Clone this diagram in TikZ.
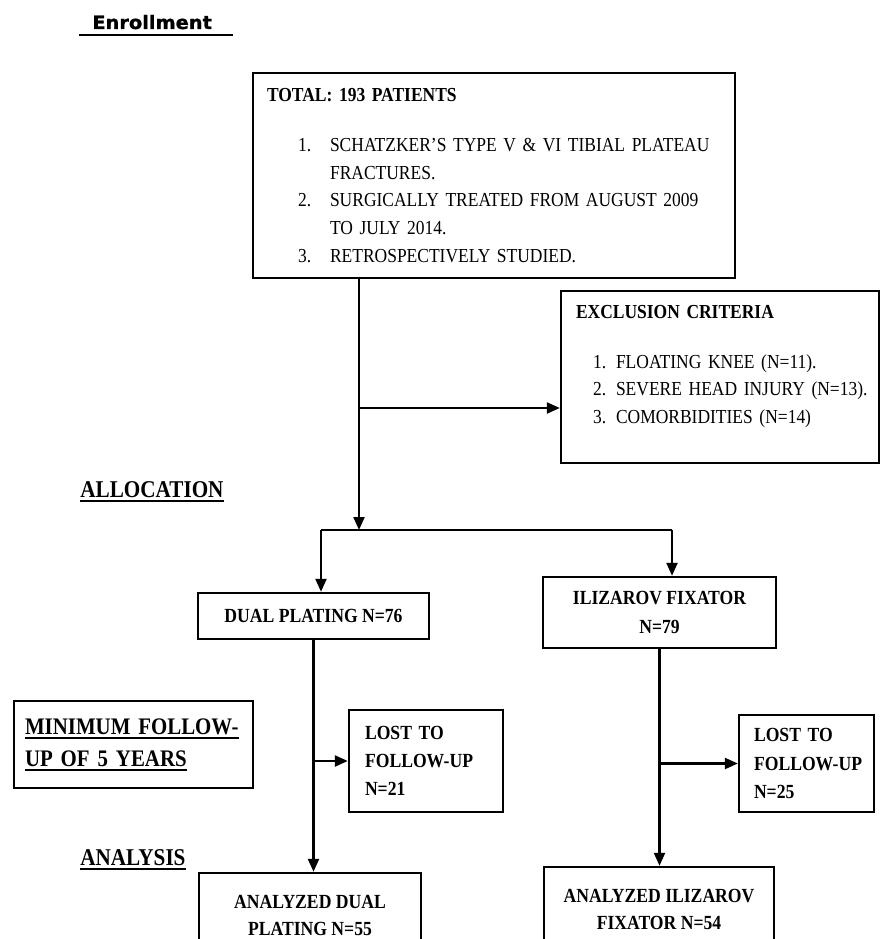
\documentclass[tikz,border=0pt]{standalone}
\usepackage{fontspec}
\setmainfont{Liberation Serif}[FakeStretch=0.88]
\newfontfamily\enrfont{DejaVu Sans}[FakeStretch=1.05, BoldFeatures={FakeBold=1.2}]
\usetikzlibrary{arrows.meta,positioning,calc}

\newcommand{\hdul}[1]{\setbox0=\hbox{#1}\rlap{\rule[-2.6pt]{\wd0}{1pt}}\box0}

\begin{document}
\begin{tikzpicture}[x=0.02cm, y=-0.02cm,
  box/.style={draw, line width=1.4pt, inner sep=0pt, align=center,
              font={\fontsize{11.4}{16}\selectfont\bfseries}},
  lst/.style={box, align=left, font={\fontsize{11.3}{15.8}\selectfont}},
  head/.style={inner sep=0pt, font={\fontsize{13.7}{18}\selectfont\bfseries}},
  lnk/.style={-{Triangle[length=2.6mm,width=2.2mm]}, line width=1.3pt},
  ln/.style={line width=1.3pt},
]
\clip (0,0) rectangle (883,939);
\node[inner sep=0pt, anchor=base west, font={\fontsize{10.5}{12}\enrfont\bfseries}] (enrol) at (92,29) {Enrollment};
\draw[line width=1.3pt] ($(enrol.base west)+(-13,6)$) -- ($(enrol.base east)+(21,6)$);

\node[lst, minimum width=9.64cm, minimum height=4.1cm, text width=9.08cm] (total) at (494,175.5)
  {\textbf{TOTAL: 193 PATIENTS}\\[12.5pt]
   \mbox{\hspace*{6.2mm}\makebox[6.4mm][l]{1.}SCHATZKER'S TYPE V \& VI TIBIAL PLATEAU}\\
   \mbox{\hspace*{12.6mm}FRACTURES.}\\
   \mbox{\hspace*{6.2mm}\makebox[6.4mm][l]{2.}SURGICALLY TREATED FROM AUGUST 2009}\\
   \mbox{\hspace*{12.6mm}TO JULY 2014.}\\
   \mbox{\hspace*{6.2mm}\makebox[6.4mm][l]{3.}RETROSPECTIVELY STUDIED.}};
\node[lst, minimum width=6.36cm, minimum height=3.44cm, text width=5.76cm] (excl) at (720,377)
  {\textbf{EXCLUSION CRITERIA}\\[12.5pt]
   \mbox{\hspace*{3.4mm}\makebox[4.6mm][l]{1.}FLOATING KNEE (N=11).}\\
   \mbox{\hspace*{3.4mm}\makebox[4.6mm][l]{2.}SEVERE HEAD INJURY (N=13).}\\
   \mbox{\hspace*{3.4mm}\makebox[4.6mm][l]{3.}COMORBIDITIES (N=14)}\rule[-5mm]{0pt}{5mm}};

\node[head, anchor=base west] (alloc) at (80,497) {\hdul{ALLOCATION}};

\node[box, minimum width=4.62cm, minimum height=0.92cm] (dual) at (313.5,616) {DUAL PLATING N=76};
\node[box, minimum width=4.66cm, minimum height=1.42cm] (iliz) at (659.5,612.5) {ILIZAROV FIXATOR\\N=79};

\node[box, align=left, minimum width=4.78cm, minimum height=1.74cm, text width=4.34cm,
      font={\fontsize{13.5}{18.2}\selectfont\bfseries}] (minfu) at (133.5,744.5)
  {\mbox{\hdul{MINIMUM FOLLOW-}}\\\mbox{\hdul{UP OF 5 YEARS}}};
\node[box, align=left, minimum width=3.08cm, minimum height=2.04cm, text width=2.44cm] (lost1) at (426,761)
  {\mbox{LOST TO}\\\mbox{FOLLOW-UP}\\N=21};
\node[box, align=left, minimum width=2.70cm, minimum height=1.94cm, text width=2.10cm] (lost2) at (806.5,763.5)
  {\mbox{LOST TO}\\\mbox{FOLLOW-UP}\\N=25};

\node[head, anchor=base west] (anal) at (80,865) {\hdul{ANALYSIS}};

\node[box, minimum width=4.44cm, minimum height=1.7cm, font={\fontsize{11.4}{15.4}\selectfont\bfseries}] (anadual) at (310,915.5) {ANALYZED DUAL\\PLATING N=55};
\node[box, minimum width=4.60cm, minimum height=1.7cm, font={\fontsize{11.4}{15.4}\selectfont\bfseries}] (anailiz) at (659,909.5) {ANALYZED ILIZAROV\\FIXATOR N=54};

% connectors
\coordinate (fork) at (359,530);
\coordinate (exj) at (359,408);
\coordinate (bl) at (321,530);
\coordinate (br) at (672,530);
\draw[lnk] (total.south -| fork) -- (fork);
\draw[lnk] (exj) -- (exj -| excl.west);
\draw[ln] (bl) -- (br);
\draw[lnk] (bl) -- (bl |- dual.north);
\draw[lnk] (br) -- (br |- iliz.north);
\draw[lnk] (dual.south) -- (dual.south |- anadual.north);
\draw[lnk] (dual.south |- lost1.west) -- (lost1.west);
\draw[lnk] (iliz.south) -- (iliz.south |- anailiz.north);
\draw[lnk] (iliz.south |- lost2.west) -- (lost2.west);
\end{tikzpicture}
\end{document}
